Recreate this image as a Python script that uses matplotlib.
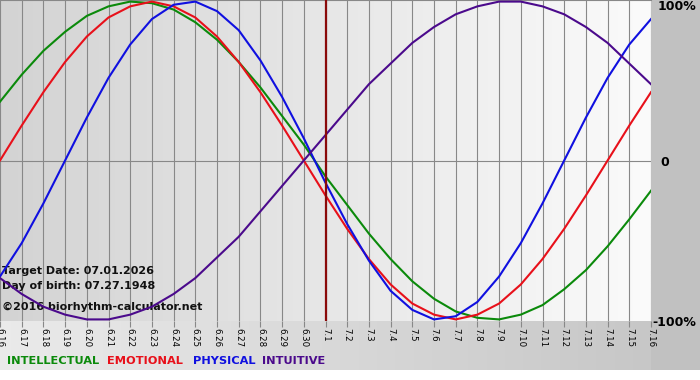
import numpy as np
import matplotlib
matplotlib.use('Agg')
import matplotlib.pyplot as plt
from matplotlib.colors import LinearSegmentedColormap

# day labels 6.16 .. 7.16
days = ['6.16', '6.17', '6.18', '6.19', '6.20', '6.21', '6.22', '6.23', '6.24', '6.25',
        '6.26', '6.27', '6.28', '6.29', '6.30', '7.1', '7.2', '7.3', '7.4', '7.5',
        '7.6', '7.7', '7.8', '7.9', '7.10', '7.11', '7.12', '7.13', '7.14', '7.15', '7.16']

# values (-1 .. 1)
intellectual = [0.37, 0.54, 0.69, 0.81, 0.91, 0.97, 1.00, 0.99, 0.95, 0.87,
                0.76, 0.62, 0.46, 0.28, 0.10, -0.10, -0.28, -0.46, -0.62, -0.76,
                -0.87, -0.95, -0.99, -1.00, -0.97, -0.91, -0.81, -0.69, -0.54, -0.37, -0.19]
emotional = [0.00, 0.22, 0.43, 0.62, 0.78, 0.90, 0.97, 1.00, 0.97, 0.90,
             0.78, 0.62, 0.43, 0.22, 0.00, -0.22, -0.43, -0.62, -0.78, -0.90,
             -0.97, -1.00, -0.97, -0.90, -0.78, -0.62, -0.43, -0.22, 0.00, 0.22, 0.43]
physical = [-0.73, -0.52, -0.27, 0.00, 0.27, 0.52, 0.73, 0.89, 0.98, 1.00,
            0.94, 0.82, 0.63, 0.40, 0.14, -0.14, -0.40, -0.63, -0.82, -0.94,
            -1.00, -0.98, -0.89, -0.73, -0.52, -0.27, 0.00, 0.27, 0.52, 0.73, 0.89]
intuitive = [-0.74, -0.84, -0.92, -0.97, -1.00, -1.00, -0.97, -0.92, -0.84, -0.74,
             -0.61, -0.48, -0.32, -0.16, 0.00, 0.16, 0.32, 0.48, 0.61, 0.74,
             0.84, 0.92, 0.97, 1.00, 1.00, 0.97, 0.92, 0.84, 0.74, 0.61, 0.48]
target_day = '7.1'

series = [('INTELLECTUAL', intellectual, '#0b8a0b'),
          ('EMOTIONAL', emotional, '#e8101a'),
          ('PHYSICAL', physical, '#1010e0'),
          ('INTUITIVE', intuitive, '#4b0a8c')]

W, H = 700, 380
fig = plt.figure(figsize=(7, 3.8), dpi=100)

# figure background: bottom strip and right strip
bg = np.ones((H, W, 3))
xs = np.linspace(0, 1, W)
bg[321:370, :, :] = (0.92 - 0.15 * xs)[None, :, None]
bg[0:370, 651:, :] = 0.76
bgax = fig.add_axes([0, 0, 1, 1])
bgax.imshow(bg, aspect='auto', interpolation='nearest')
bgax.axis('off')

ax = fig.add_axes([0, 1 - 321 / H, 651 / W, 321 / H])
x = np.arange(len(days))
grad = LinearSegmentedColormap.from_list('g', ['#d3d3d3', '#fbfbfb'])
ax.imshow(np.linspace(0, 1, 256)[None, :], cmap=grad, aspect='auto',
          extent=[0, len(days) - 1, -1.01, 1.01], zorder=0)

for xi in x:
    ax.axvline(xi, color='#888888', lw=0.8, zorder=1)
ax.axhline(0, color='#888888', lw=0.8, zorder=1)
ax.axvline(days.index(target_day), color='#8a0a0a', lw=1.6, zorder=5)

info = [('Target Date: 07.01.2026', 271),
        ('Day of birth: 07.27.1948', 286),
        ('©2016 biorhythm-calculator.net', 307)]
for txt, ypx in info:
    ax.text(2 / 651, 1 - ypx / 321, txt, transform=ax.transAxes, fontsize=8,
            fontweight='bold', va='center', color='#111111', zorder=2)

for name, vals, col in series:
    ax.plot(x, vals, color=col, lw=1.5, zorder=3)

ax.set_xlim(0, len(days) - 1)
ax.set_ylim(-1.01, 1.01)
ax.set_xticks(x)
ax.set_xticklabels(days, rotation=-90, fontsize=6.2)
ax.set_yticks([])
ax.tick_params(axis='x', length=4, color='#888888', width=0.8, pad=1)
for s in ['left', 'right', 'bottom']:
    ax.spines[s].set_visible(False)
ax.spines['top'].set_color('#888888')
ax.spines['top'].set_linewidth(0.8)
ax.set_facecolor('none')

fig.text(658 / W, 1 - 7 / H, '100%', fontsize=9, fontweight='bold', va='center')
fig.text(660 / W, 1 - 162 / H, '0', fontsize=9, fontweight='bold', va='center')
fig.text(652 / W, 1 - 322 / H, '-100%', fontsize=9, fontweight='bold', va='center')

lx = [7, 107, 193, 262]
for (name, vals, col), px in zip(series, lx):
    fig.text(px / W, 1 - 361 / H, name, fontsize=8.2, fontweight='bold', color=col, va='center')

fig.savefig('out.png', dpi=100)
